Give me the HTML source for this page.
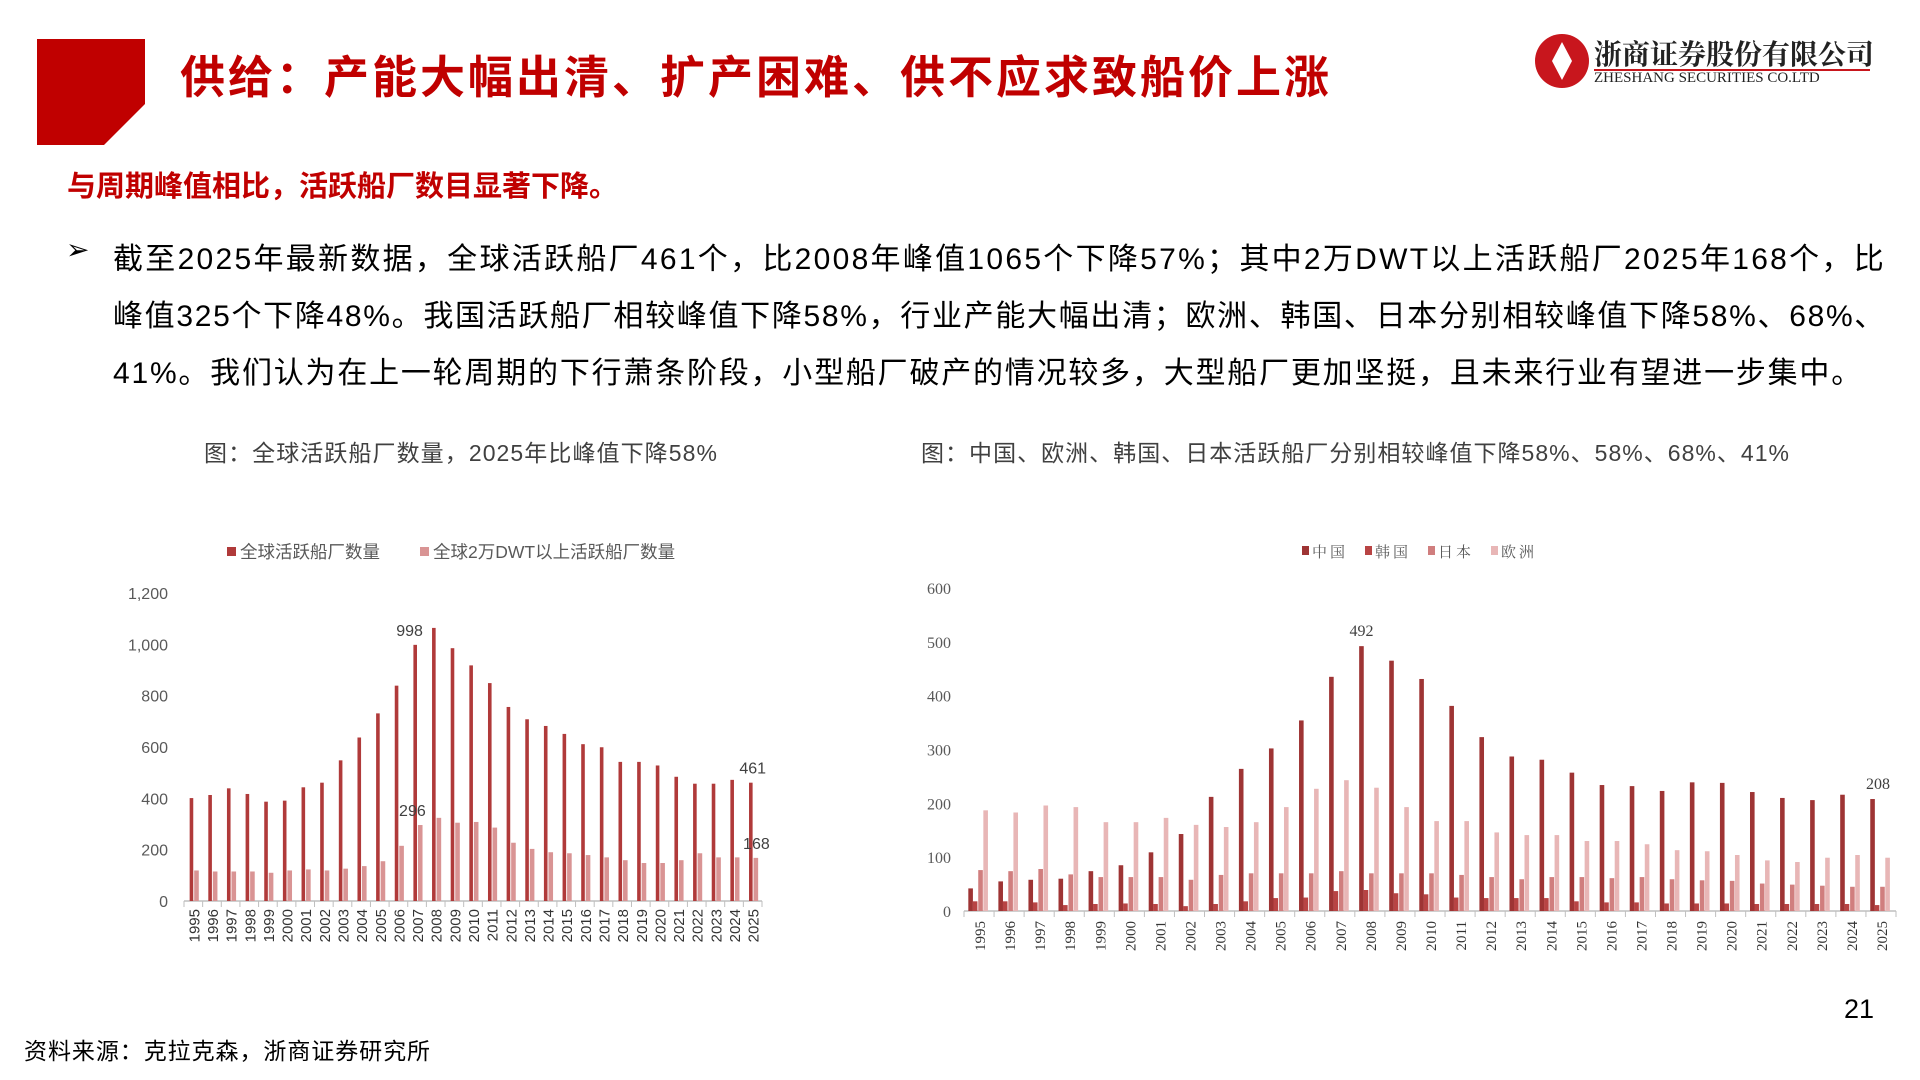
<!DOCTYPE html>
<html><head><meta charset="utf-8"><style>
body{margin:0;width:1920px;height:1080px;background:#fff;overflow:hidden;font-family:"Liberation Sans","Noto Sans CJK SC",sans-serif;position:relative}
.abs{position:absolute;white-space:nowrap}
.ln{display:inline-block;white-space:nowrap}
</style></head><body>
<svg class="abs" style="left:0;top:0" width="1920" height="1080">
<polygon points="37,39 145,39 145,104 104,145 37,145" fill="#c00000"/>
<circle cx="1562" cy="61" r="27" fill="#c8161d"/>
<path d="M1562,42 l10,19 -10,19 -10,-19z" fill="#fff"/>
<line x1="1594" y1="70" x2="1870" y2="70" stroke="#c8161d" stroke-width="2"/>
<g id="chart1"></g>
<g id="chart2"></g>
</svg>
<div class="abs" style="left:180px;top:41px;font-size:45px;letter-spacing:3px;font-weight:bold;color:#c00000">供给：产能大幅出清、扩产困难、供不应求致船价上涨</div>
<div class="abs" style="left:1594px;top:33px;font-size:28px;font-weight:bold;color:#222;font-family:'Liberation Serif','Noto Serif CJK SC',serif">浙商证券股份有限公司</div>
<div class="abs" style="left:1594px;top:70px;font-size:15px;color:#222;font-family:'Liberation Serif',serif">ZHESHANG SECURITIES CO.LTD</div>
<div class="abs" style="left:67px;top:163px;font-size:29px;font-weight:bold;color:#c00000">与周期峰值相比，活跃船厂数目显著下降。</div>
<div class="abs" style="left:66px;top:233px;font-size:28px;color:#000">➢</div>
<div class="abs" style="left:113px;top:231px;font-size:30px;line-height:57px;color:#000"><span class="ln fit" data-w="1773">截至2025年最新数据，全球活跃船厂461个，比2008年峰值1065个下降57%；其中2万DWT以上活跃船厂2025年168个，比</span><br><span class="ln fit" data-w="1773">峰值325个下降48%。我国活跃船厂相较峰值下降58%，行业产能大幅出清；欧洲、韩国、日本分别相较峰值下降58%、68%、</span><br><span class="ln fit" data-w="1750">41%。我们认为在上一轮周期的下行萧条阶段，小型船厂破产的情况较多，大型船厂更加坚挺，且未来行业有望进一步集中。</span></div>
<div class="abs fit" data-w="514" style="left:204px;top:434px;font-size:23px;color:#404040">图：全球活跃船厂数量，2025年比峰值下降58%</div>
<div class="abs fit" data-w="869" style="left:921px;top:434px;font-size:23px;color:#404040">图：中国、欧洲、韩国、日本活跃船厂分别相较峰值下降58%、58%、68%、41%</div>
<div class="abs fit" data-w="407" style="left:24px;top:1032px;font-size:23px;color:#000">资料来源：克拉克森，浙商证券研究所</div>
<div class="abs" style="left:1844px;top:994px;font-size:27px;color:#000">21</div>
<script>
document.querySelectorAll('.fit').forEach(el=>{const w=+el.getAttribute('data-w');const cur=el.getBoundingClientRect().width;const n=el.textContent.length;el.style.letterSpacing=((w-cur)/n)+'px';});
const years=[];for(let y=1995;y<=2025;y++)years.push(String(y));
const globalYards=[401,413,439,417,387,391,443,461,548,637,731,839,998,1064,985,918,849,756,708,682,651,611,599,542,542,528,484,457,457,472,461];
const largeYards=[119,115,115,115,110,119,123,119,126,136,155,215,296,324,305,308,286,227,203,190,186,179,170,159,148,148,159,186,170,170,168];
const ticks1=[0,200,400,600,800,1000,1200];
const tickLabels1=["0","200","400","600","800","1,000","1,200"];
const china=[42,55,58,60,74,85,109,143,212,264,302,354,435,492,465,431,381,323,287,281,257,234,232,223,239,238,221,210,206,216,208];
const korea=[18,18,16,11,13,14,13,9,13,18,24,25,37,39,33,31,25,24,24,24,18,16,16,14,14,14,13,13,13,13,11];
const japan=[76,74,78,68,63,63,63,58,67,70,70,70,74,70,70,70,67,63,59,63,63,61,63,59,57,56,51,49,47,45,45];
const europe=[187,183,196,193,165,165,173,160,156,165,193,227,243,229,193,167,167,146,141,141,130,130,124,113,111,104,94,91,99,104,99];
const ticks2=[0,100,200,300,400,500,600];
const NS="http://www.w3.org/2000/svg";
function mk(p,t,a){const e=document.createElementNS(NS,t);for(const k in a)e.setAttribute(k,a[k]);p.appendChild(e);return e;}
(function(){
const g=document.getElementById('chart1');
const x0=184,x1=762,y0=901,y1=593,max=1200;
const cw=(x1-x0)/years.length;
const X=i=>x0+i*cw, Y=v=>y0-(y0-y1)*v/max;
ticks1.forEach((t,i)=>{const e=mk(g,'text',{x:168,y:Y(t)+6,'text-anchor':'end','font-size':16,fill:'#595959','font-family':'Liberation Sans, sans-serif'});e.textContent=tickLabels1[i];

});
const ax=mk(g,'line',{x1:x0,y1:y0,x2:x1,y2:y0,stroke:'#bfbfbf','stroke-width':1.5});


years.forEach((yr,i)=>{
mk(g,'line',{x1:X(i),y1:y0,x2:X(i),y2:y0+6,stroke:'#bfbfbf'});
const b=mk(g,'rect',{x:X(i)+cw*0.4-1.8,y:Y(globalYards[i]),width:3.6,height:y0-Y(globalYards[i]),fill:'#b03a3a'});


const c=mk(g,'rect',{x:X(i)+cw*0.67-2.3,y:Y(largeYards[i]),width:4.6,height:y0-Y(largeYards[i]),fill:'#d99494'});


const t=mk(g,'text',{transform:`translate(${X(i)+cw/2+6},${y0+8}) rotate(-90)`,'text-anchor':'end','font-size':15,fill:'#333','font-family':'Liberation Sans, sans-serif'});t.textContent=yr;


});
mk(g,'line',{x1:x1,y1:y0,x2:x1,y2:y0+6,stroke:'#bfbfbf'});
[[12,globalYards,0.1],[12,largeYards,0.25],[30,globalYards,0.5],[30,largeYards,0.7]].forEach(([i,arr,o])=>{
const t=mk(g,'text',{x:X(i)+cw*o,y:Y(arr[i])-9,'text-anchor':'middle','font-size':16,fill:'#404040','font-family':'Liberation Sans, sans-serif'});t.textContent=arr[i];

});
const lg=[['全球活跃船厂数量','#b03a3a',227],['全球2万DWT以上活跃船厂数量','#d99494',420]];
lg.forEach(([n,c,x])=>{mk(g,'rect',{x:x,y:547,width:9,height:9,fill:c});const t=mk(g,'text',{x:x+13,y:558,'font-size':17.5,fill:'#595959'});t.textContent=n;

});
})();
(function(){
const g=document.getElementById('chart2');
const x0=964,x1=1896,y0=911,y1=588,max=600;
const cw=(x1-x0)/years.length;
const X=i=>x0+i*cw, Y=v=>y0-(y0-y1)*v/max;
ticks2.forEach(t=>{const e=mk(g,'text',{x:951,y:Y(t)+6,'text-anchor':'end','font-size':16,fill:'#595959','font-family':'Liberation Serif, serif'});e.textContent=t;

});
const ax=mk(g,'line',{x1:x0,y1:y0,x2:x1,y2:y0,stroke:'#bfbfbf','stroke-width':1.5});


const series=[[china,'#9e3434',0.22,'china'],[korea,'#b84444',0.37,'korea'],[japan,'#d07e7e',0.55,'japan'],[europe,'#e8b6b6',0.72,'europe']];
years.forEach((yr,i)=>{
mk(g,'line',{x1:X(i),y1:y0,x2:X(i),y2:y0+6,stroke:'#bfbfbf'});
series.forEach(([arr,c,o,n])=>{const b=mk(g,'rect',{x:X(i)+cw*o-2.3,y:Y(arr[i]),width:4.6,height:y0-Y(arr[i]),fill:c});

});
const t=mk(g,'text',{transform:`translate(${X(i)+cw/2+6},${y0+10}) rotate(-90)`,'text-anchor':'end','font-size':15,fill:'#333','font-family':'Liberation Serif, serif'});t.textContent=yr;


});
mk(g,'line',{x1:x1,y1:y0,x2:x1,y2:y0+6,stroke:'#bfbfbf'});
[[13,0.22],[30,0.4]].forEach(([i,o])=>{const t=mk(g,'text',{x:X(i)+cw*o,y:Y(china[i])-10,'text-anchor':'middle','font-size':16,fill:'#404040','font-family':'Liberation Serif, serif'});t.textContent=china[i];

});
const lg=[['中国','#9e3434',1302],['韩国','#b84444',1365],['日本','#d07e7e',1428],['欧洲','#e8b6b6',1491]];
lg.forEach(([n,c,x])=>{mk(g,'rect',{x:x,y:546,width:7,height:9,fill:c});const t=mk(g,'text',{x:x+10,y:557,'font-size':15,fill:'#595959','letter-spacing':3,'font-family':'Liberation Serif, Noto Serif CJK SC, serif'});t.textContent=n;

});
})();
</script>
</body></html>
